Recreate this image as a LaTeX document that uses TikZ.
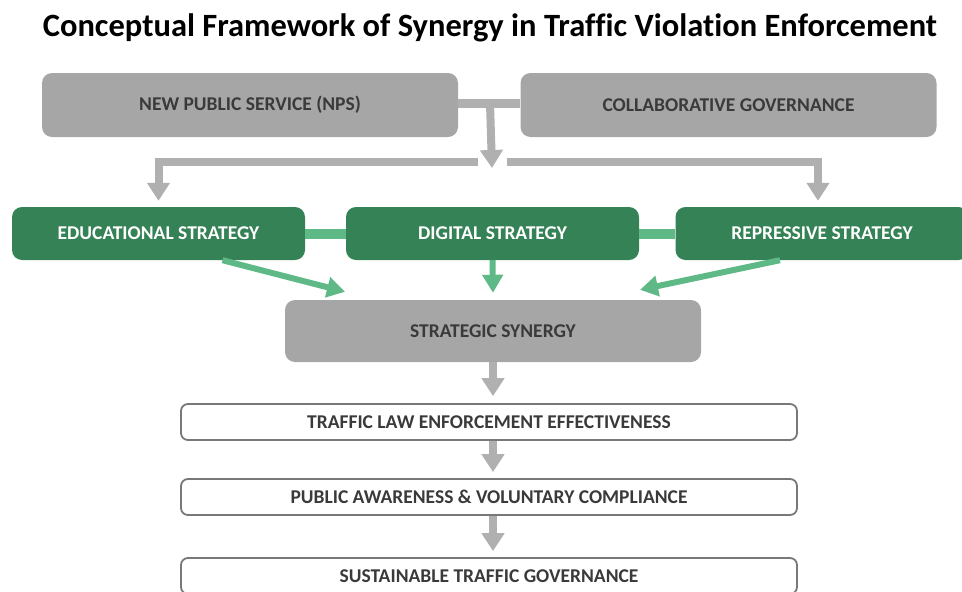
\documentclass[tikz,border=0pt]{standalone}
\usepackage{fontspec}
\setmainfont{Carlito}[Ligatures=NoCommon]
\usetikzlibrary{arrows.meta,positioning}
\definecolor{boxgray}{HTML}{A6A6A6}
\definecolor{txtgray}{HTML}{3A3A3A}
\definecolor{darkgreen}{HTML}{358256}
\definecolor{lightgreen}{HTML}{5EB986}
\definecolor{arrowgray}{HTML}{B0B0B0}
\definecolor{edgegray}{HTML}{787878}

\tikzset{
	lbl/.style={font=\fontsize{19.5}{22}\selectfont\bfseries},
	graybox/.style={lbl,rounded corners=10pt,fill=boxgray,text=txtgray,minimum width=416pt,minimum height=64pt},
	greenbox/.style={lbl,rounded corners=10pt,fill=darkgreen,text=white,minimum width=293pt,minimum height=53pt},
	outbox/.style={lbl,rounded corners=7pt,draw=edgegray,line width=1.8pt,fill=white,text=txtgray,minimum width=616pt,minimum height=36pt},
	grayarrow/.style={draw=arrowgray,line width=8pt,-{Triangle[width=22pt,length=18pt]}},
	greenarrow/.style={draw=lightgreen,line width=6pt,-{Triangle[width=20pt,length=18pt]}}
}

\begin{document}
\begin{tikzpicture}[x=1pt,y=-1pt,line join=round]
	\useasboundingbox (0,0) rectangle (962,592);
	\node[font=\fontsize{32.5}{36}\selectfont\bfseries] (title) at (490,28) {Conceptual Framework of Synergy in Traffic Violation Enforcement};

	% theories
	\node[graybox] (nps) at (250,105) {NEW PUBLIC SERVICE (NPS)};
	\node[graybox] (cg) at (728.5,105) {COLLABORATIVE GOVERNANCE};
	\coordinate (join) at (490,103);
	\coordinate (hub) at (492,162);
	\draw[arrowgray,line width=9pt] (nps.east |- join) -- (cg.west |- join);
	\draw[grayarrow] (join) -- ([yshift=-6pt]hub);

	% strategies
	\node[greenbox] (edu) at (158.5,233.5) {EDUCATIONAL STRATEGY};
	\node[greenbox] (dig) at (492.5,233.5) {DIGITAL STRATEGY};
	\node[greenbox] (rep) at (822,233.5) {REPRESSIVE STRATEGY};
	\draw[grayarrow,line join=miter] ([xshift=-14pt]hub) -| ([yshift=6pt]edu.north);
	\draw[grayarrow,line join=miter] ([xshift=15pt]hub) -| ([xshift=-4pt,yshift=6pt]rep.north);
	\draw[lightgreen,line width=10pt] (edu.east) -- (dig.west);
	\draw[lightgreen,line width=10pt] (dig.east) -- (rep.west);

	\node[graybox,minimum height=62pt] (syn) at (493,331) {STRATEGIC SYNERGY};
	\draw[greenarrow] ([xshift=64pt]edu.south) -- ([xshift=-148pt,yshift=8pt]syn.north);
	\draw[greenarrow] (dig.south) -- ([yshift=7pt]syn.north);
	\draw[greenarrow] ([xshift=-42pt]rep.south) -- ([xshift=147pt,yshift=10pt]syn.north);

	% outcomes
	\node[outbox] (eff) at (489,422) {TRAFFIC LAW ENFORCEMENT EFFECTIVENESS};
	\node[outbox] (aware) at (489,497) {PUBLIC AWARENESS \& VOLUNTARY COMPLIANCE};
	\node[outbox] (gov) at (489,576) {SUSTAINABLE TRAFFIC GOVERNANCE};
	\draw[grayarrow] (syn.south) -- ([yshift=7pt]syn.south |- eff.north);
	\draw[grayarrow] (eff.south -| syn.south) -- ([yshift=6pt]syn.south |- aware.north);
	\draw[grayarrow] (aware.south -| syn.south) -- ([yshift=6pt]syn.south |- gov.north);
\end{tikzpicture}
\end{document}
